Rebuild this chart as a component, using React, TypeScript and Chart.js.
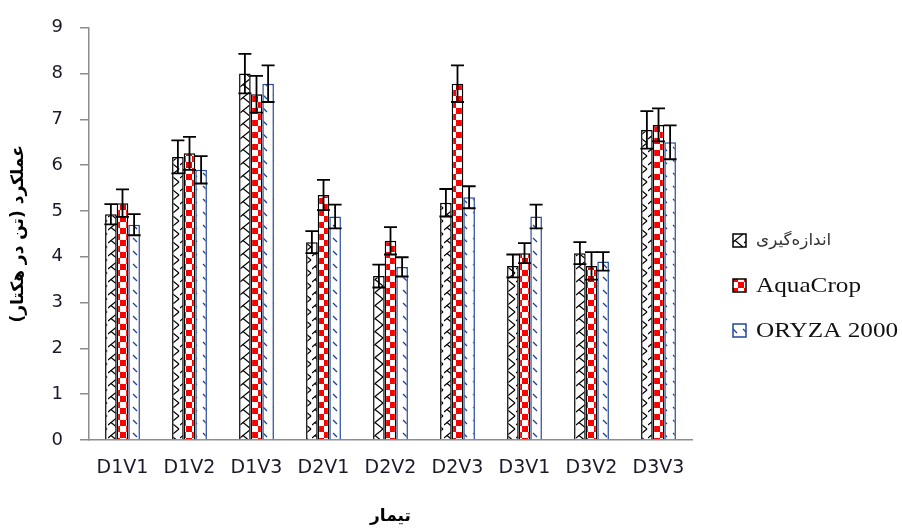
import React, { useEffect, useRef } from 'react';
import { Chart, registerables } from 'chart.js';

Chart.register(...registerables);

const categories = ['D1V1', 'D1V2', 'D1V3', 'D2V1', 'D2V2', 'D2V3', 'D3V1', 'D3V2', 'D3V3'];
const seriesNames = ['\u0627\u0646\u062f\u0627\u0632\u0647\u200c\u06af\u06cc\u0631\u06cc', 'AquaCrop', 'ORYZA 2000'];
const measured = [4.93, 6.18, 8.0, 4.32, 3.58, 5.18, 3.8, 4.08, 6.77];
const measuredErr = [0.22, 0.36, 0.43, 0.24, 0.25, 0.3, 0.25, 0.24, 0.41];
const aquaCrop = [5.17, 6.26, 7.55, 5.35, 4.35, 7.78, 4.08, 3.8, 6.88];
const aquaCropErr = [0.3, 0.36, 0.4, 0.33, 0.3, 0.4, 0.22, 0.3, 0.36];
const oryza = [4.7, 5.9, 7.78, 4.88, 3.78, 5.3, 4.88, 3.9, 6.5];
const oryzaErr = [0.23, 0.3, 0.4, 0.26, 0.21, 0.24, 0.26, 0.2, 0.37];
const yTitle = '\u200f\u0639\u0645\u0644\u06a9\u0631\u062f (\u062a\u0646 \u062f\u0631 \u0647\u06a9\u062a\u0627\u0631)\u200f';
const xTitle = '\u062a\u06cc\u0645\u0627\u0631';

function makePattern(kind: string): CanvasPattern | string {
  const c = document.createElement('canvas');
  const ctx = c.getContext('2d');
  if (!ctx) return '#fff';
  if (kind === 'measured') {
    c.width = 12; c.height = 13;
    ctx.fillStyle = '#fff';
    ctx.fillRect(0, 0, 12, 13);
    ctx.strokeStyle = '#000';
    ctx.lineWidth = 1.2;
    ctx.beginPath();
    ctx.moveTo(11, 0); ctx.lineTo(3, 6.5); ctx.lineTo(11, 13);
    ctx.moveTo(3, 6.5); ctx.lineTo(0, 9);
    ctx.stroke();
  } else if (kind === 'aqua') {
    c.width = 12; c.height = 12;
    ctx.fillStyle = '#fff';
    ctx.fillRect(0, 0, 12, 12);
    ctx.fillStyle = '#ff0000';
    ctx.fillRect(0, 0, 6, 6);
    ctx.fillRect(6, 6, 6, 6);
  } else {
    c.width = 10; c.height = 13;
    ctx.fillStyle = '#fff';
    ctx.fillRect(0, 0, 10, 13);
    ctx.strokeStyle = '#1f3f8f';
    ctx.lineWidth = 1.3;
    ctx.beginPath();
    ctx.moveTo(3, 4); ctx.lineTo(7, 8);
    ctx.stroke();
  }
  return ctx.createPattern(c, 'repeat') || '#fff';
}

export default function App() {
  const ref = useRef<HTMLCanvasElement | null>(null);

  useEffect(() => {
    if (!ref.current) return;
    const patM = makePattern('measured');
    const patA = makePattern('aqua');
    const patO = makePattern('oryza');
    const errs = [measuredErr, aquaCropErr, oryzaErr];

    const errorBars = {
      id: 'errorBars',
      afterDatasetsDraw(chart: any) {
        const ctx = chart.ctx;
        const yS = chart.scales.y;
        ctx.save();
        ctx.strokeStyle = '#000';
        ctx.lineWidth = 1.8;
        chart.data.datasets.forEach((ds: any, i: number) => {
          const meta = chart.getDatasetMeta(i);
          meta.data.forEach((el: any, j: number) => {
            const v = ds.data[j];
            const e = errs[i][j];
            const yt = yS.getPixelForValue(v + e);
            const yb = yS.getPixelForValue(v - e);
            const x = el.x;
            ctx.beginPath();
            ctx.moveTo(x, yt); ctx.lineTo(x, yb);
            ctx.moveTo(x - 6.5, yt); ctx.lineTo(x + 6.5, yt);
            ctx.moveTo(x - 6.5, yb); ctx.lineTo(x + 6.5, yb);
            ctx.stroke();
          });
        });
        ctx.restore();
      },
    };

    const legendPlugin = {
      id: 'customLegend',
      afterDraw(chart: any) {
        const ctx = chart.ctx;
        const ys = [240, 285, 330];
        const fonts = ['16px "DejaVu Sans"', '21px "Liberation Serif"', '21px "Liberation Serif"'];
        const stretch = [1.05, 1.2, 1.2];
        const colors = ['#333', '#111', '#111'];
        ctx.save();
        chart.data.datasets.forEach((ds: any, i: number) => {
          const y = ys[i];
          ctx.fillStyle = ds.backgroundColor;
          ctx.fillRect(733, y - 6, 13, 13);
          ctx.strokeStyle = ds.borderColor;
          ctx.lineWidth = 1.5;
          ctx.strokeRect(733, y - 6, 13, 13);
          ctx.save();
          ctx.translate(756, y + 1);
          ctx.scale(stretch[i], 1);
          ctx.fillStyle = colors[i];
          ctx.font = fonts[i];
          ctx.textBaseline = 'middle';
          ctx.textAlign = 'left';
          ctx.fillText(ds.label, 0, 0);
          ctx.restore();
        });
        ctx.restore();
      },
    };

    const chart = new Chart(ref.current, {
      type: 'bar',
      data: {
        labels: categories,
        datasets: [
          { label: seriesNames[0], data: measured, backgroundColor: patM as any, borderColor: '#000', borderWidth: 1.5 },
          { label: seriesNames[1], data: aquaCrop, backgroundColor: patA as any, borderColor: '#000', borderWidth: 1.5 },
          { label: seriesNames[2], data: oryza, backgroundColor: patO as any, borderColor: '#23479a', borderWidth: 1.5 },
        ],
      },
      options: {
        responsive: false,
        animation: false,
        devicePixelRatio: 1,
        layout: { padding: { left: 0, right: 210, top: 23, bottom: 0 } },
        datasets: { bar: { barPercentage: 1, categoryPercentage: 0.52 } },
        plugins: { legend: { display: false }, tooltip: { enabled: false } },
        scales: {
          x: {
            grid: { display: true, drawOnChartArea: false, drawTicks: false },
            border: { display: true, color: '#8c8c8c', width: 1.5 },
            ticks: { color: '#1a1a2a', font: { family: 'DejaVu Sans', size: 19 }, padding: 17, maxRotation: 0, autoSkip: false },
            title: { display: true, text: xTitle, color: '#000', font: { family: 'DejaVu Sans', size: 17, weight: 'bold' }, padding: 5 },
            afterFit: (s: any) => { s.height = 92; },
          },
          y: {
            min: 0,
            max: 9,
            grid: { display: true, drawOnChartArea: false, drawTicks: true, tickLength: 9, color: '#8c8c8c', lineWidth: 1.5 },
            border: { display: true, color: '#8c8c8c', width: 1.5 },
            ticks: { stepSize: 1, color: '#1a1a2a', font: { family: 'DejaVu Sans', size: 18 }, padding: 17 },
            title: { display: true, text: yTitle, color: '#000', font: { family: 'DejaVu Sans', size: 17, weight: 'bold' }, padding: 8 },
            afterFit: (s: any) => { s.width = 89; },
          },
        },
      },
      plugins: [errorBars, legendPlugin],
    });
    return () => chart.destroy();
  }, []);

  return (
    <div style={{ position: 'fixed', left: 0, top: 0, width: 902, height: 532, background: '#fff' }}>
      <canvas ref={ref} width={902} height={532} style={{ width: 902, height: 532 }} />
    </div>
  );
}
